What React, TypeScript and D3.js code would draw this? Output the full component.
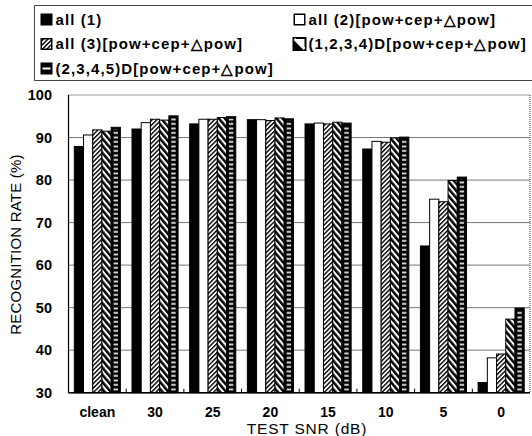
import React from 'react';
import * as d3 from 'd3';

// Test conditions along the x axis
const categories = ['clean', '30', '25', '20', '15', '10', '5', '0'];

// Recognition rate (%) for each feature set
const seriesNames = [
  'all (1)',
  'all (2)[pow+cep+△pow]',
  'all (3)[pow+cep+△pow]',
  '(1,2,3,4)D[pow+cep+△pow]',
  '(2,3,4,5)D[pow+cep+△pow]',
];
const all1 = [87.9, 92.0, 93.2, 94.2, 93.2, 87.3, 64.5, 32.4];
const all2 = [90.6, 93.5, 94.3, 94.2, 93.4, 89.1, 75.5, 38.2];
const all3 = [91.8, 94.3, 94.3, 94.0, 93.2, 88.9, 74.9, 39.1];
const d1234 = [91.5, 94.1, 94.7, 94.6, 93.6, 89.9, 79.9, 47.3];
const d2345 = [92.4, 95.1, 94.9, 94.4, 93.4, 90.1, 80.7, 49.9];
const seriesValues = [all1, all2, all3, d1234, d2345];

const yTicks = [30, 40, 50, 60, 70, 80, 90, 100];

const W = 532;
const H = 436;
const FONT = '"Liberation Sans", Arial, Helvetica, sans-serif';

const plot = { left: 68.5, right: 530, top: 95, bottom: 392.7 };

const fills = ['#000', '#fff', 'url(#hatchFwd)', 'url(#hatchBack)', '#000'];

export default function App() {
  const x = d3.scaleBand<string>().domain(categories).range([plot.left, plot.right]).padding(0);
  const bw = x.bandwidth();
  const xs = d3
    .scaleBand<number>()
    .domain(d3.range(seriesNames.length))
    .range([5.8, bw - 5.8])
    .padding(0);
  const y = d3.scaleLinear().domain([30, 100]).range([plot.bottom, plot.top]);

  const legendItems = [
    { i: 0, x: 40.5, y: 19.5 },
    { i: 1, x: 293.5, y: 19.5 },
    { i: 2, x: 40.5, y: 44 },
    { i: 3, x: 293.5, y: 44 },
    { i: 4, x: 40.5, y: 68.5 },
  ];

  const swatch = (i: number, sx: number, sy: number, size: number) => {
    if (i === 4) {
      return (
        <g>
          <rect x={sx} y={sy} width={size} height={size} fill="#000" />
          <rect x={sx + 2} y={sy + size / 2 - 1} width={size - 4} height={2} fill="#fff" />
        </g>
      );
    }
    if (i === 3) {
      return (
        <g>
          <rect x={sx} y={sy} width={size} height={size} fill="#fff" stroke="#000" strokeWidth={2} />
          <path
            d={`M${sx},${sy} L${sx + size},${sy + size} L${sx},${sy + size} Z`}
            fill="#000"
          />
          <path
            d={`M${sx + 1},${sy + 1} L${sx + size - 1},${sy + size - 1}`}
            stroke="#fff"
            strokeWidth={2.5}
          />
        </g>
      );
    }
    return (
      <rect
        x={sx + 0.75}
        y={sy + 0.75}
        width={size - 1.5}
        height={size - 1.5}
        fill={fills[i]}
        stroke="#000"
        strokeWidth={1.5}
      />
    );
  };

  return (
    <svg
      width={W}
      height={H}
      viewBox={`0 0 ${W} ${H}`}
      style={{ position: 'absolute', left: 0, top: 0, background: '#fff', display: 'block' }}
      fontFamily={FONT}
    >
      <defs>
        <pattern
          id="hatchFwd"
          patternUnits="userSpaceOnUse"
          width={3.2}
          height={3.2}
          patternTransform="rotate(45)"
        >
          <rect width={3.2} height={3.2} fill="#fff" />
          <rect width={1.4} height={3.2} fill="#000" />
        </pattern>
        <pattern
          id="hatchBack"
          patternUnits="userSpaceOnUse"
          width={4.6}
          height={4.6}
          patternTransform="rotate(-40)"
        >
          <rect width={4.6} height={4.6} fill="#fff" />
          <rect width={2.5} height={4.6} fill="#000" />
        </pattern>
        <pattern id="dashes" patternUnits="userSpaceOnUse" width={10} height={4.5}>
          <rect y={1.5} width={10} height={1.8} fill="#e8e8e8" />
        </pattern>
      </defs>

      <rect width={W} height={H} fill="#fff" />

      {/* Legend */}
      <path d={`M${W + 2},5.5 H34.5 V80.5 H${W + 2}`} fill="none" stroke="#444" strokeWidth={1} />
      {legendItems.map(({ i, x: lx, y: ly }) => (
        <g key={i}>
          {swatch(i, lx, ly - 6, 12)}
          <text
            x={lx + 15}
            y={ly}
            dy="0.36em"
            fontSize={15}
            fontWeight="bold"
            letterSpacing={1.1}
            fill="#000"
          >
            {seriesNames[i]}
          </text>
        </g>
      ))}

      {/* Grid */}
      {yTicks.map((t) => (
        <line
          key={t}
          x1={plot.left}
          x2={plot.right}
          y1={y(t)}
          y2={y(t)}
          stroke={t === 100 ? '#333' : '#777'}
          strokeWidth={1}
          strokeDasharray={t === 100 ? '1 1' : undefined}
        />
      ))}
      <line
        x1={plot.right}
        x2={plot.right}
        y1={plot.top}
        y2={plot.bottom}
        stroke="#333"
        strokeDasharray="1 1"
      />

      {/* Bars */}
      {categories.map((c, ci) => (
        <g key={c} transform={`translate(${x(c)},0)`}>
          {seriesValues.map((vals, si) => {
            const bx = xs(si)!;
            const bwid = xs.bandwidth();
            const top = y(vals[ci]);
            const h = plot.bottom - top;
            if (si === 4) {
              return (
                <g key={si}>
                  <rect x={bx} y={top} width={bwid} height={h} fill="#000" stroke="#000" strokeWidth={1} />
                  <rect x={bx + 2.4} y={top + 2} width={bwid - 4.8} height={h - 2} fill="url(#dashes)" />
                </g>
              );
            }
            return (
              <rect
                key={si}
                x={bx}
                y={top}
                width={bwid}
                height={h}
                fill={fills[si]}
                stroke="#000"
                strokeWidth={1}
              />
            );
          })}
        </g>
      ))}

      {/* Axes */}
      <line x1={plot.left} x2={plot.left} y1={plot.top} y2={plot.bottom} stroke="#000" strokeWidth={1.2} />
      <line x1={plot.left} x2={plot.right} y1={plot.bottom} y2={plot.bottom} stroke="#000" strokeWidth={1.6} />
      {categories.slice(1).map((c) => (
        <line
          key={c}
          x1={x(c)!}
          x2={x(c)!}
          y1={plot.bottom}
          y2={plot.bottom - 4}
          stroke="#000"
          strokeWidth={1}
        />
      ))}

      {yTicks.map((t) => (
        <text
          key={t}
          x={52}
          y={y(t)}
          dy="0.36em"
          textAnchor="end"
          fontSize={14.5}
          fontWeight="bold"
          fill="#000"
        >
          {t}
        </text>
      ))}

      {categories.map((c) => (
        <text
          key={c}
          x={x(c)! + bw / 2}
          y={417}
          textAnchor="middle"
          fontSize={14}
          fontWeight="bold"
          fill="#000"
        >
          {c}
        </text>
      ))}

      <text x={307} y={433.5} textAnchor="middle" fontSize={15.5} fill="#000" letterSpacing={0.8}>
        TEST SNR (dB)
      </text>
      <text
        transform="translate(20.5,244.5) rotate(-90)"
        textAnchor="middle"
        fontSize={15}
        fill="#000"
        letterSpacing={0.2}
      >
        RECOGNITION RATE (%)
      </text>
    </svg>
  );
}
